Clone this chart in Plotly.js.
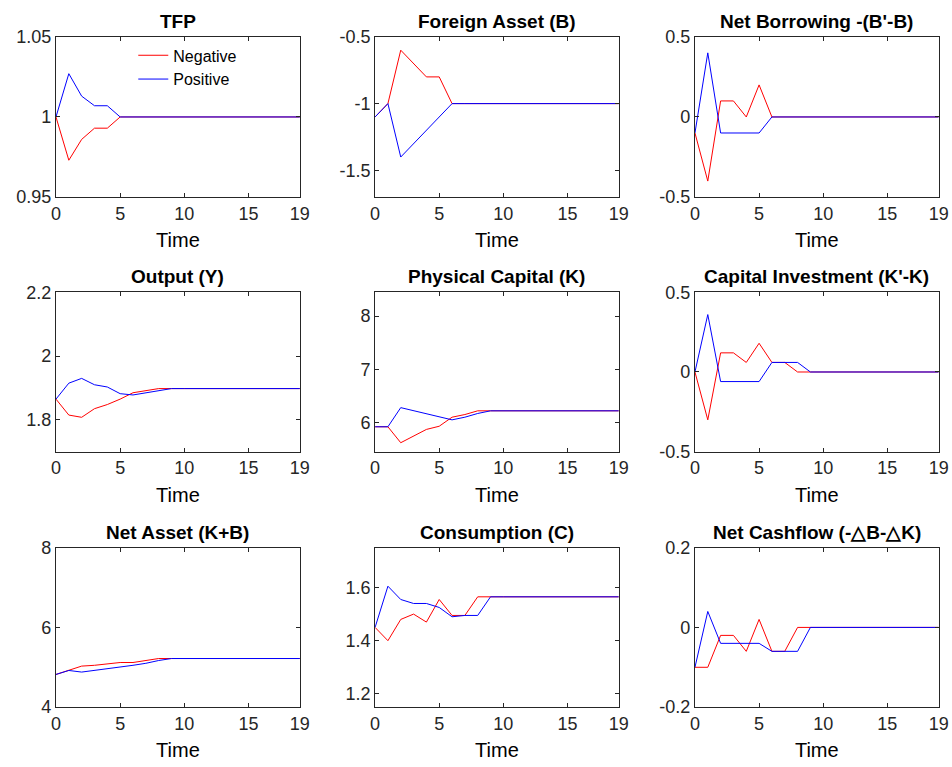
<!DOCTYPE html>
<html>
<head>
<meta charset="utf-8">
<script src="https://cdn.plot.ly/plotly-3.0.1.min.js"></script>
<style>body{margin:0;background:#fff}</style>
</head>
<body>
<div id="chart" style="width:952px;height:767px"></div>
<script>
//Time axis: 0..19, all series settle after period 9
var time = [];
for (var t = 0; t < 20; t++) { time.push(t); }

//Helper to pad a short series with its steady-state value
function pad(arr) {
    var out = arr.slice();
    while (out.length < 20) { out.push(arr[arr.length - 1]); }
    return out;
}

var titles = ["TFP", "Foreign Asset (B)", "Net Borrowing -(B'-B)",
              "Output (Y)", "Physical Capital (K)", "Capital Investment (K'-K)",
              "Net Asset (K+B)", "Consumption (C)", "Net Cashflow (-\u25B3B-\u25B3K)"];

var tfpNeg = [1, 0.973, 0.986, 0.993, 0.993, 1];
var tfpPos = [1, 1.027, 1.013, 1.007, 1.007, 1];
var bNeg = [-1.1, -1.0, -0.6, -0.7, -0.8, -0.8, -1.0];
var bPos = [-1.1, -1.0, -1.4, -1.3, -1.2, -1.1, -1.0];
var nbNeg = [-0.1, -0.4, 0.1, 0.1, 0, 0.2, 0];
var nbPos = [-0.1, 0.4, -0.1, -0.1, -0.1, -0.1, 0];
var yNeg = [1.865, 1.815, 1.808, 1.835, 1.848, 1.865, 1.885, 1.892, 1.898, 1.898];
var yPos = [1.865, 1.915, 1.93, 1.91, 1.903, 1.882, 1.878, 1.885, 1.893, 1.898];
var kNeg = [5.92, 5.92, 5.62, 5.75, 5.87, 5.93, 6.1, 6.15, 6.22, 6.22];
var kPos = [5.92, 5.92, 6.28, 6.22, 6.16, 6.10, 6.05, 6.1, 6.17, 6.22];
var kiNeg = [0, -0.3, 0.12, 0.12, 0.06, 0.18, 0.06, 0.06, 0, 0];
var kiPos = [0, 0.36, -0.06, -0.06, -0.06, -0.06, 0.06, 0.06, 0.06, 0];
var naNeg = [4.82, 4.92, 5.03, 5.05, 5.08, 5.12, 5.12, 5.17, 5.22, 5.22];
var naPos = [4.82, 4.92, 4.88, 4.92, 4.96, 5.0, 5.05, 5.1, 5.17, 5.22];
var cNeg = [1.45, 1.40, 1.48, 1.50, 1.47, 1.555, 1.495, 1.495, 1.565, 1.565];
var cPos = [1.45, 1.605, 1.555, 1.54, 1.54, 1.525, 1.49, 1.495, 1.495, 1.565];
var cfNeg = [-0.1, -0.1, -0.02, -0.02, -0.06, 0.02, -0.06, -0.06, 0, 0];
var cfPos = [-0.1, 0.04, -0.04, -0.04, -0.04, -0.04, -0.06, -0.06, -0.06, 0];

var negSeries = [tfpNeg, bNeg, nbNeg, yNeg, kNeg, kiNeg, naNeg, cNeg, cfNeg];
var posSeries = [tfpPos, bPos, nbPos, yPos, kPos, kiPos, naPos, cPos, cfPos];

var yRanges = [[0.95, 1.05], [-1.7, -0.5], [-0.5, 0.5], [1.7, 2.2], [5.45, 8.45],
               [-0.5, 0.5], [4, 8], [1.15, 1.75], [-0.2, 0.2]];
var yTicks = [[0.95, 1, 1.05], [-1.5, -1, -0.5], [-0.5, 0, 0.5], [1.8, 2, 2.2], [6, 7, 8],
              [-0.5, 0, 0.5], [4, 6, 8], [1.2, 1.4, 1.6], [-0.2, 0, 0.2]];
var xTicks = [0, 5, 10, 15, 19];

var xDom = [[0.0588, 0.315], [0.394, 0.650], [0.730, 0.986]];
var yDom = [[0.743, 0.952], [0.411, 0.619], [0.078, 0.286]];

var font = {family: "Liberation Sans, Arial, sans-serif", size: 18, color: "#262626"};
var data = [];
var layout = {
    width: 952, height: 767, margin: {l: 0, r: 0, t: 0, b: 0},
    paper_bgcolor: "#fff", plot_bgcolor: "#fff", font: font,
    showlegend: true,
    legend: {x: 0.14, y: 0.95, xanchor: "left", yanchor: "top", bgcolor: "rgba(0,0,0,0)",
             font: {family: font.family, size: 16, color: "#000"}},
    annotations: []
};

for (var i = 0; i < 9; i++) {
    var n = i + 1;
    var xa = n === 1 ? "x" : "x" + n;
    var ya = n === 1 ? "y" : "y" + n;
    data.push({x: time, y: pad(negSeries[i]), xaxis: xa, yaxis: ya, mode: "lines",
               line: {color: "#ff0000", width: 1}, name: "Negative", showlegend: i === 0});
    data.push({x: time, y: pad(posSeries[i]), xaxis: xa, yaxis: ya, mode: "lines",
               line: {color: "#0000ff", width: 1}, name: "Positive", showlegend: i === 0});
    var col = i % 3, row = Math.floor(i / 3);
    layout["xaxis" + (n === 1 ? "" : n)] = {
        domain: xDom[col], anchor: ya, range: [0, 19], tickvals: xTicks,
        showgrid: false, zeroline: false, showline: true, mirror: "ticks",
        linecolor: "#262626", ticks: "inside", ticklen: 4, tickcolor: "#262626",
        title: {text: "Time", font: {size: 20, color: "#000"}, standoff: 10}
    };
    layout["yaxis" + (n === 1 ? "" : n)] = {
        domain: yDom[row], anchor: xa, range: yRanges[i], tickvals: yTicks[i],
        ticktext: yTicks[i].map(function (v) { return String(v); }),
        showgrid: false, zeroline: false, showline: true, mirror: "ticks",
        linecolor: "#262626", ticks: "inside", ticklen: 4, tickcolor: "#262626"
    };
    layout.annotations.push({
        text: "<b>" + titles[i] + "</b>", xref: "paper", yref: "paper",
        x: (xDom[col][0] + xDom[col][1]) / 2, y: yDom[row][1] + 0.004,
        xanchor: "center", yanchor: "bottom", showarrow: false,
        font: {family: font.family, size: 19, color: "#000"}
    });
}

Plotly.newPlot("chart", data, layout, {displayModeBar: false});
</script>
</body>
</html>
